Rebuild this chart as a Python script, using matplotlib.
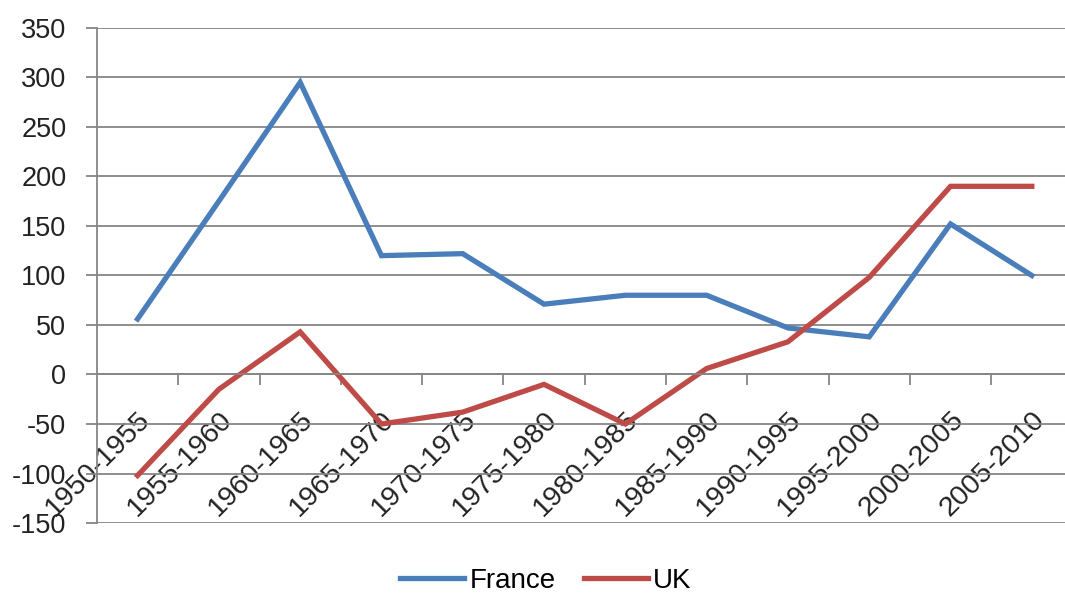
import matplotlib.pyplot as plt

periods = ['1950-1955', '1955-1960', '1960-1965', '1965-1970', '1970-1975',
           '1975-1980', '1980-1985', '1985-1990', '1990-1995', '1995-2000',
           '2000-2005', '2005-2010']
france = [56, 175, 295, 120, 122, 71, 80, 80, 47, 38, 152, 100]
uk = [-102, -15, 43, -50, -38, -10, -50, 6, 33, 98, 190, 190]
y_ticks = [-150, -100, -50, 0, 50, 100, 150, 200, 250, 300, 350]


def main():
    '''
    draw the France / UK line chart and save it as out.png
    '''
    plt.rcParams['font.family'] = ['Liberation Sans', 'DejaVu Sans']
    grey = '#868686'

    fig = plt.figure(figsize=(10.65, 5.93), dpi=100)
    ax = fig.add_axes([0.091, 0.118, 0.916, 0.835])

    x = list(range(len(periods)))
    ax.plot(x, france, color='#4A7EBB', lw=3.8, label='France',
            solid_joinstyle='miter', clip_on=False)
    ax.plot(x, uk, color='#BE4B48', lw=3.8, label='UK',
            solid_joinstyle='miter', clip_on=False)

    ax.set_xlim(-0.5, len(periods) - 0.5)
    ax.set_ylim(-150, 350)
    ax.set_yticks(y_ticks)
    ax.set_yticklabels([str(v) for v in y_ticks], fontsize=19.5,
                       color='#222222')
    ax.yaxis.grid(True, color=grey, lw=1.3)
    ax.set_axisbelow(True)

    for side in ['top', 'right']:
        ax.spines[side].set_visible(False)
    ax.spines['left'].set_color(grey)
    ax.spines['left'].set_linewidth(1.3)
    ax.spines['bottom'].set_position(('data', 0))
    ax.spines['bottom'].set_color(grey)
    ax.spines['bottom'].set_linewidth(1.3)

    ax.tick_params(axis='y', length=8, width=1.3, color=grey, pad=14)

    # category labels at centres, tick marks at the boundaries
    ax.set_xticks(x)
    ax.set_xticklabels(periods, fontsize=20.5, color='#222222', rotation=45,
                       ha='right', va='top', rotation_mode='anchor')
    ax.tick_params(axis='x', which='major', length=0, pad=23)
    ax.set_xticks([i + 0.5 for i in x[:-1]], minor=True)
    ax.tick_params(axis='x', which='minor', length=8, width=1.3, color=grey,
                   direction='out')

    fig.legend(loc='center', bbox_to_anchor=(546 / 1065, 0.02), ncol=2,
               frameon=False, fontsize=20, handlelength=2.3,
               handletextpad=0.2, columnspacing=1.0)

    fig.savefig('out.png', dpi=100)


if __name__ == "__main__":
    main()
